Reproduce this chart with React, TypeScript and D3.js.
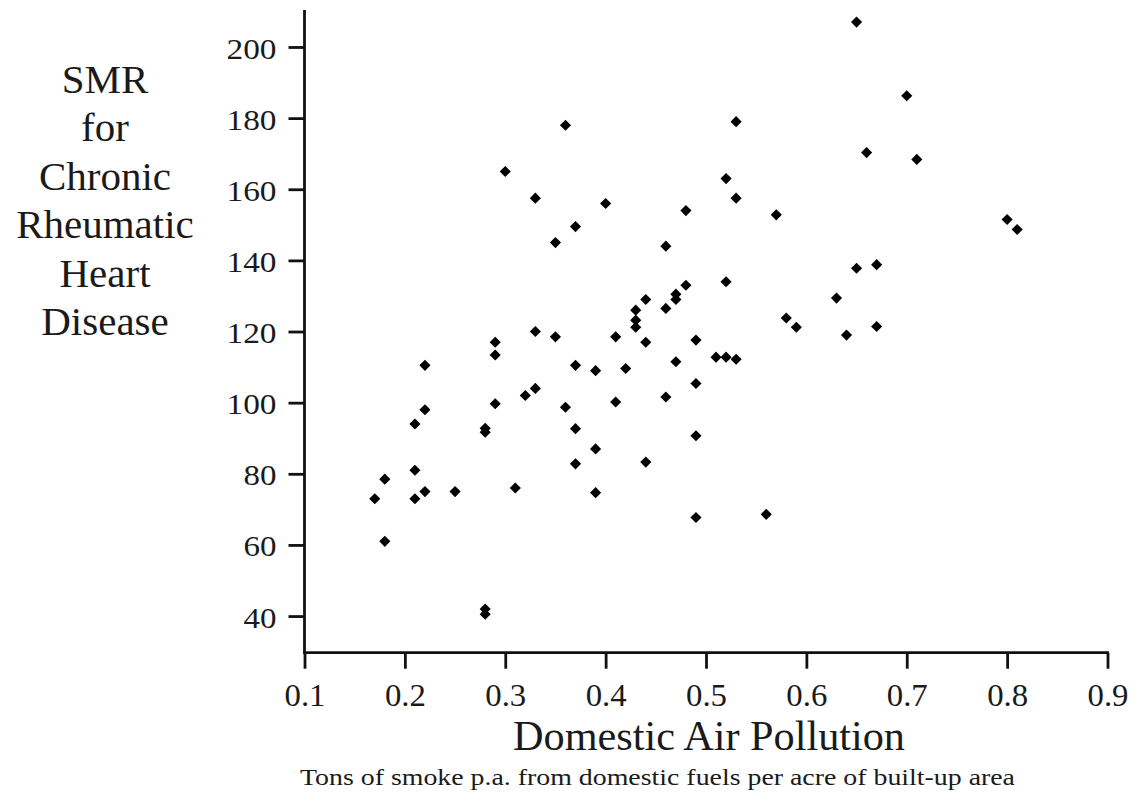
import React, { useEffect, useRef } from 'react';
import * as d3 from 'd3';

// domestic air pollution (tons of smoke p.a. per acre) for each town
const pollution = [
  0.17, 0.18, 0.18, 0.21, 0.21, 0.21, 0.22, 0.22, 0.22, 0.25,
  0.28, 0.28, 0.28, 0.28, 0.29, 0.29, 0.29, 0.30, 0.31, 0.32,
  0.33, 0.33, 0.33, 0.35, 0.35, 0.36, 0.36, 0.37, 0.37, 0.37,
  0.37, 0.39, 0.39, 0.39, 0.40, 0.41, 0.41, 0.42, 0.43, 0.43,
  0.43, 0.44, 0.44, 0.44, 0.46, 0.46, 0.46, 0.47, 0.47, 0.47,
  0.48, 0.48, 0.49, 0.49, 0.49, 0.49, 0.51, 0.52, 0.52, 0.52,
  0.53, 0.53, 0.53, 0.56, 0.57, 0.58, 0.59, 0.63, 0.64, 0.65,
  0.65, 0.66, 0.67, 0.67, 0.70, 0.71, 0.80, 0.81,
];

// SMR for chronic rheumatic heart disease, same order
const smr = [
  73, 78.5, 61, 94, 81, 73, 110.5, 98, 75, 75,
  92.8, 91.7, 42, 40.5, 117, 113.4, 99.7, 165, 76, 102,
  157.5, 120, 104, 145, 118.5, 178, 98.7, 149.5, 110.5, 92.7,
  82.8, 109, 87, 74.7, 156, 118.5, 100.2, 109.6, 126, 123.2,
  121.2, 129, 117, 83.3, 144, 126.5, 101.6, 130.5, 129, 111.5,
  154, 133, 117.6, 105.4, 90.7, 67.7, 112.8, 163, 134, 112.8,
  179, 157.5, 112.2, 68.6, 152.8, 123.8, 121.2, 129.4, 119, 207,
  137.8, 170.3, 138.8, 121.4, 186.3, 168.4, 151.5, 148.7,
];

const xTicks = [0.1, 0.2, 0.3, 0.4, 0.5, 0.6, 0.7, 0.8, 0.9];
const yTicks = [40, 60, 80, 100, 120, 140, 160, 180, 200];
const yTitleLines = ['SMR', 'for', 'Chronic', 'Rheumatic', 'Heart', 'Disease'];
const xTitle = 'Domestic Air Pollution';
const xSubtitle = 'Tons of smoke p.a. from domestic fuels per acre of built-up area';

const W = 1140;
const H = 799;
// no Times-like face in the sandbox, DejaVu Serif is the nearest serif
const FONT = 'Liberation Serif, Times New Roman, DejaVu Serif, serif';

const App: React.FC = () => {
  const svgRef = useRef<SVGSVGElement>(null);

  useEffect(() => {
    if (!svgRef.current) return;
    const svg = d3.select(svgRef.current);
    svg.selectAll('*').remove();

    const x = d3.scaleLinear().domain([0.1, 0.9]).range([304.5, 1107.5]);
    const y = d3.scaleLinear().domain([29.7, 210.4]).range([652.7, 10]);
    const x0 = x(0.1);
    const yBase = y(29.7);

    // y axis
    const yAxis = svg.append('g')
      .attr('transform', `translate(${x0},0)`)
      .call(d3.axisLeft(y).tickValues(yTicks).tickSize(16).tickPadding(12).tickSizeOuter(0));
    yAxis.attr('font-family', null).attr('font-size', null);
    yAxis.select('.domain').remove();
    yAxis.append('line')
      .attr('x1', 0).attr('x2', 0)
      .attr('y1', y(210.4)).attr('y2', yBase)
      .attr('stroke', '#111').attr('stroke-width', 2.8);
    yAxis.selectAll('.tick line').attr('stroke', '#111').attr('stroke-width', 2.8);
    yAxis.selectAll<SVGTextElement, number>('.tick text')
      .attr('fill', '#1a1a1a')
      .attr('font-family', FONT)
      .attr('font-size', 29)
      .attr('dy', '0.38em')
      .attr('textLength', d => (d >= 100 ? 50 : 33))
      .attr('lengthAdjust', 'spacingAndGlyphs');

    // x axis
    const xAxis = svg.append('g')
      .attr('transform', `translate(0,${yBase})`)
      .call(d3.axisBottom(x).tickValues(xTicks).tickFormat(d3.format('.1f')).tickSize(16).tickPadding(15).tickSizeOuter(0));
    xAxis.attr('font-family', null).attr('font-size', null);
    xAxis.select('.domain').remove();
    xAxis.append('line')
      .attr('x1', x0 - 1.4).attr('x2', x(0.9) + 1.4)
      .attr('y1', 0).attr('y2', 0)
      .attr('stroke', '#111').attr('stroke-width', 2.8);
    xAxis.selectAll('.tick line').attr('stroke', '#111').attr('stroke-width', 2.8);
    xAxis.selectAll('.tick text')
      .attr('fill', '#1a1a1a')
      .attr('font-family', FONT)
      .attr('font-size', 32)
      .attr('textLength', 41)
      .attr('lengthAdjust', 'spacingAndGlyphs');

    // points
    const diamond = d3.symbol().type(d3.symbolSquare).size(62)();
    svg.append('g')
      .selectAll('path')
      .data(pollution.map((p, i) => [p, smr[i]]))
      .join('path')
      .attr('d', diamond)
      .attr('transform', d => `translate(${x(d[0])},${y(d[1])}) rotate(45)`)
      .attr('fill', '#000');

    // y title
    const yt = svg.append('text')
      .attr('text-anchor', 'middle')
      .attr('fill', '#1a1a1a')
      .attr('font-family', FONT)
      .attr('font-size', 41);
    yTitleLines.forEach((line, i) => {
      yt.append('tspan').attr('x', 105).attr('y', 93 + i * 48.4).text(line);
    });

    // x title + subtitle
    svg.append('text')
      .attr('x', 709).attr('y', 750)
      .attr('text-anchor', 'middle')
      .attr('fill', '#1a1a1a')
      .attr('font-family', FONT)
      .attr('font-size', 42)
      .attr('textLength', 392)
      .attr('lengthAdjust', 'spacingAndGlyphs')
      .text(xTitle);

    svg.append('text')
      .attr('x', 300).attr('y', 785)
      .attr('textLength', 715)
      .attr('lengthAdjust', 'spacingAndGlyphs')
      .attr('fill', '#1a1a1a')
      .attr('font-family', FONT)
      .attr('font-size', 24)
      .text(xSubtitle);
  }, []);

  return (
    <svg
      ref={svgRef}
      width={W}
      height={H}
      style={{ position: 'absolute', left: 0, top: 0, background: '#fff' }}
    />
  );
};

export default App;
